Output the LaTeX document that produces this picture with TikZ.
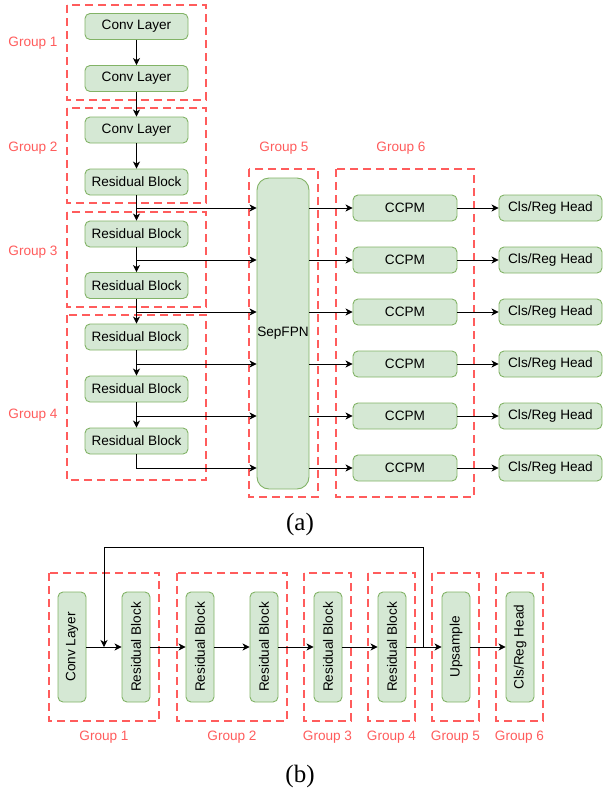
\documentclass[tikz,border=0pt]{standalone}
\usepackage{fontspec}
\setmainfont{Liberation Sans}
\newfontfamily\capfont{Liberation Serif}
\usetikzlibrary{arrows.meta}
\definecolor{boxfill}{HTML}{D5E8D4}
\definecolor{boxline}{HTML}{82B366}
\definecolor{grpred}{HTML}{FF5C5C}
\tikzset{
  blk/.style={draw=boxline, fill=boxfill, line width=0.9pt, rounded corners=5pt,
    minimum width=103pt, minimum height=26pt, inner sep=0pt,
    font=\fontsize{13.6}{16}\selectfont},
  vblk/.style={blk, rotate=90, minimum width=110pt, minimum height=28pt},
  grp/.style={draw=grpred, line width=2.4pt, dash pattern=on 8pt off 5pt},
  glab/.style={text=grpred, font=\fontsize{13.6}{16}\selectfont, inner sep=0pt},
  arr/.style={draw=black, line width=0.9pt, -{Stealth[length=7pt,width=7pt,inset=2pt]}},
  captxt/.style={font=\capfont\fontsize{25}{28}\selectfont, inner sep=0pt}
}
\begin{document}
\begin{tikzpicture}[x=1pt,y=-1pt]
\useasboundingbox (0,0) rectangle (603,788);
% ---------- (a) ----------
\draw[grp] (67,5) rectangle (206,100);
\draw[grp] (67,108) rectangle (206,203);
\draw[grp] (67,212) rectangle (206,307);
\draw[grp] (67,315) rectangle (206,480);
\draw[grp] (249,169) rectangle (318,497);
\draw[grp] (336,169) rectangle (474,497);
\node[glab] (la1) at (33,43) {Group 1};
\node[glab] (la2) at (33,148) {Group 2};
\node[glab] (la3) at (33,252) {Group 3};
\node[glab] (la4) at (33,415) {Group 4};
\node[glab] (la5) at (284,148) {Group 5};
\node[glab] (la6) at (401,148) {Group 6};

\node[blk] (c1) at (136.5,26.5) {Conv Layer};
\node[blk] (c2) at (136.5,78.5) {Conv Layer};
\node[blk] (c3) at (136.5,130) {Conv Layer};
\node[blk] (r2) at (136.5,182) {Residual Block};
\node[blk] (r3a) at (136.5,234) {Residual Block};
\node[blk] (r3b) at (136.5,285.5) {Residual Block};
\node[blk] (r4a) at (136.5,337) {Residual Block};
\node[blk] (r4b) at (136.5,389) {Residual Block};
\node[blk] (r4c) at (136.5,441) {Residual Block};
\node[blk, minimum width=52pt, minimum height=311pt, rounded corners=12pt] (sep) at (283,333.5) {SepFPN};

\foreach \i/\y in {1/208,2/260,3/312,4/364,5/416,6/468}{
  \node[blk, minimum width=104pt] (cc\i) at (405,\y) {CCPM};
  \node[blk, minimum width=103pt] (h\i) at (550.5,\y) {Cls/Reg Head};
  \coordinate (j\i) at (136.5,\y);
}
\draw[arr] (c1) -- (c2);
\draw[arr] (c2) -- (c3);
\draw[arr] (c3) -- (r2);
\draw[arr] (r2) -- (r3a);
\draw[arr] (r3a) -- (r3b);
\draw[arr] (r3b) -- (r4a);
\draw[arr] (r4a) -- (r4b);
\draw[arr] (r4b) -- (r4c);
\foreach \i in {1,...,5}{
  \draw[arr] (j\i) -- (j\i -| sep.west);
}
\draw[arr] (r4c.south) |- (j6 -| sep.west);
\foreach \i in {1,...,6}{
  \draw[arr] (sep.east |- cc\i) -- (cc\i);
  \draw[arr] (cc\i) -- (h\i);
}
\node[captxt] (capa) at (300,524) {(a)};

% ---------- (b) ----------
\draw[grp] (49,573) rectangle (159,721);
\draw[grp] (177,573) rectangle (287,721);
\draw[grp] (304,573) rectangle (351,721);
\draw[grp] (368,573) rectangle (415,721);
\draw[grp] (432,573) rectangle (479,721);
\draw[grp] (496,573) rectangle (543,721);
\node[glab] (lb1) at (104,737) {Group 1};
\node[glab] (lb2) at (232,737) {Group 2};
\node[glab] (lb3) at (327.5,737) {Group 3};
\node[glab] (lb4) at (391.5,737) {Group 4};
\node[glab] (lb5) at (455.5,737) {Group 5};
\node[glab] (lb6) at (519.5,737) {Group 6};

\node[vblk] (bc) at (72,647) {Conv Layer};
\node[vblk] (b1) at (136,647) {Residual Block};
\node[vblk] (b2) at (200,647) {Residual Block};
\node[vblk] (b3) at (264,647) {Residual Block};
\node[vblk] (b4) at (328,647) {Residual Block};
\node[vblk] (b5) at (392,647) {Residual Block};
\node[vblk] (bu) at (456,647) {Upsample};
\node[vblk] (bh) at (520,647) {Cls/Reg Head};
\draw[arr] (bc) -- (b1);
\draw[arr] (b1) -- (b2);
\draw[arr] (b2) -- (b3);
\draw[arr] (b3) -- (b4);
\draw[arr] (b4) -- (b5);
\draw[arr] (b5) -- (bu);
\draw[arr] (bu) -- (bh);
\coordinate (fa) at (423,647);
\coordinate (fb) at (104,647);
\coordinate (fc) at (423,547);
\draw[arr] (fa) -- (fc) -| (fb);
\node[captxt] (capb) at (300,776) {(b)};
\end{tikzpicture}
\end{document}
